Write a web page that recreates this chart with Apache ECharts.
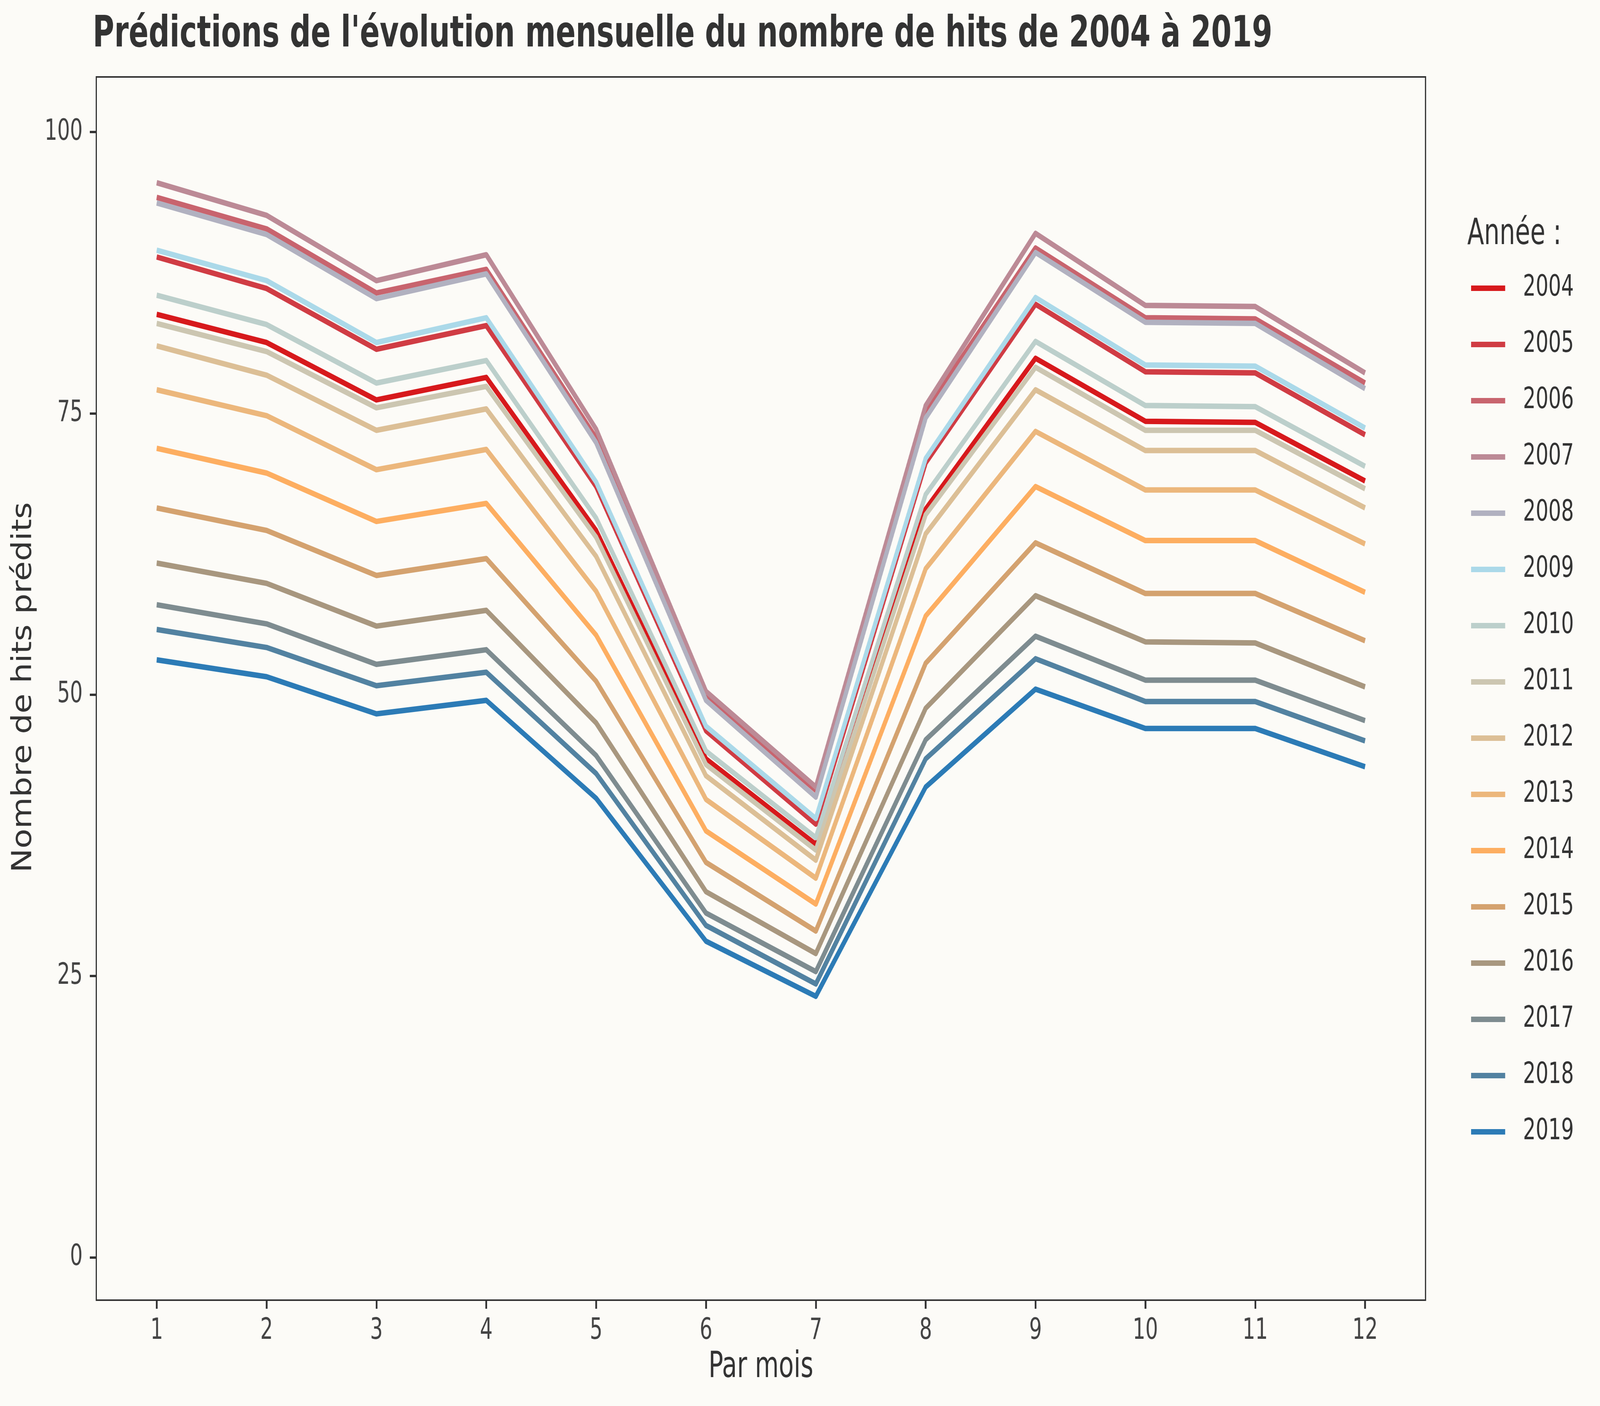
<!DOCTYPE html>
<html>
<head>
<meta charset="utf-8">
<script src="https://cdn.jsdelivr.net/npm/echarts@6/dist/echarts.min.js"></script>
<style>
html,body{margin:0;padding:0;background:#fcfbf7;overflow:hidden;}
#chart{width:5400px;height:3600px;transform-origin:0 0;}
</style>
</head>
<body>
<div id="chart"></div>
<script>
const months = [1,2,3,4,5,6,7,8,9,10,11,12];
const yTicks = [0,25,50,75,100];
const years = ['2004','2005','2006','2007','2008','2009','2010','2011','2012','2013','2014','2015','2016','2017','2018','2019'];
const colors = ['#d7191c','#d03c44','#c8646e','#bc8a96','#b1b1c0','#abd9e9','#bccfcb','#ccc6b1','#dcbf96','#ecb77c','#fdae61','#d4a26f','#a8977f','#7e8c90','#5282a1','#2c7bb6'];

const v2004 = [83.8, 81.3, 76.2, 78.2, 64.6, 44.3, 36.7, 66.5, 79.9, 74.3, 74.2, 69.0];
const v2005 = [88.9, 86.1, 80.7, 82.8, 68.5, 46.8, 38.5, 70.6, 84.7, 78.7, 78.6, 73.1];
const v2006 = [94.2, 91.4, 85.7, 87.8, 72.8, 49.9, 41.5, 75.2, 89.7, 83.5, 83.4, 77.7];
const v2007 = [95.5, 92.6, 86.8, 89.1, 73.6, 50.3, 41.8, 75.7, 91.0, 84.6, 84.5, 78.6];
const v2008 = [93.7, 90.9, 85.2, 87.4, 72.4, 49.5, 40.9, 74.6, 89.3, 83.1, 83.0, 77.2];
const v2009 = [89.5, 86.8, 81.3, 83.5, 68.9, 47.2, 39.0, 71.0, 85.3, 79.3, 79.2, 73.7];
const v2010 = [85.5, 82.9, 77.7, 79.7, 65.7, 45.0, 37.3, 67.8, 81.4, 75.7, 75.6, 70.3];
const v2011 = [83.0, 80.5, 75.5, 77.4, 64.0, 43.8, 36.2, 66.0, 79.1, 73.5, 73.5, 68.3];
const v2012 = [81.0, 78.4, 73.5, 75.4, 62.3, 42.8, 35.3, 64.3, 77.1, 71.7, 71.7, 66.6];
const v2013 = [77.1, 74.8, 70.0, 71.8, 59.2, 40.7, 33.7, 61.2, 73.4, 68.2, 68.2, 63.4];
const v2014 = [71.9, 69.7, 65.4, 67.0, 55.3, 37.9, 31.4, 57.0, 68.5, 63.7, 63.7, 59.1];
const v2015 = [66.6, 64.6, 60.6, 62.1, 51.2, 35.1, 29.0, 52.8, 63.5, 59.0, 59.0, 54.8];
const v2016 = [61.7, 59.9, 56.1, 57.5, 47.5, 32.5, 27.0, 48.8, 58.8, 54.7, 54.6, 50.7];
const v2017 = [58.0, 56.3, 52.7, 54.0, 44.6, 30.6, 25.4, 46.0, 55.2, 51.3, 51.3, 47.7];
const v2018 = [55.8, 54.2, 50.8, 52.0, 43.0, 29.5, 24.3, 44.3, 53.2, 49.4, 49.4, 45.9];
const v2019 = [53.1, 51.6, 48.3, 49.5, 40.8, 28.1, 23.2, 41.8, 50.5, 47.0, 47.0, 43.6];
const values = [v2004,v2005,v2006,v2007,v2008,v2009,v2010,v2011,v2012,v2013,v2014,v2015,v2016,v2017,v2018,v2019];

const FONT = '"DejaVu Sans Condensed", "DejaVu Sans", sans-serif';

// fit the 5400x3600 design into the actual viewport
const el = document.getElementById('chart');
const sx = (window.innerWidth || 5400) / 5400;
const sy = (window.innerHeight || 3600) / 3600;
el.style.transform = 'scale(' + sx + ',' + sy + ')';

const chart = echarts.init(el, null, {renderer:'canvas', width: 5400, height: 3600});
const series = years.map((y, i) => ({
  name: y,
  type: 'line',
  data: months.map((m, j) => [m, values[i][j]]),
  symbol: 'none',
  showSymbol: false,
  color: colors[i],
  lineStyle: {width: 14, color: colors[i], join: 'round', cap: 'butt'},
  emphasis: {disabled: true},
  animation: false
}));

chart.setOption({
  backgroundColor: '#fcfbf7',
  animation: false,
  grid: {left: 325, right: 589, top: 197, bottom: 271, show: true, borderColor: '#333333', borderWidth: 4, backgroundColor: '#fcfbf7', containLabel: false},
  xAxis: {
    type: 'value', min: 0.45, max: 12.55,
    splitLine: {show: false},
    axisLine: {show: false, onZero: false},
    axisTick: {show: true, length: 22, lineStyle: {width: 6, color: '#333333'}, customValues: months},
    axisLabel: {show: true, margin: 42, fontSize: 75, color: '#444444', fontFamily: FONT, customValues: months}
  },
  yAxis: {
    type: 'value', min: -3.8, max: 104.9,
    splitLine: {show: false},
    axisLine: {show: false, onZero: false},
    axisTick: {show: true, length: 22, lineStyle: {width: 6, color: '#333333'}, customValues: yTicks},
    axisLabel: {show: true, margin: 46, fontSize: 75, color: '#444444', fontFamily: FONT, customValues: yTicks}
  },
  legend: {
    orient: 'vertical', left: 4965, top: 698, padding: 0,
    icon: 'rect', itemWidth: 115, itemHeight: 14, itemGap: 64,
    textStyle: {fontSize: 75, lineHeight: 80, color: '#333333', fontFamily: FONT, padding: [0,0,0,55]},
    data: years
  },
  graphic: [
    {type: 'text', x: 313, y: 90, style: {text: "Prédictions de l'évolution mensuelle du nombre de hits de 2004 à 2019", font: 'bold 110px ' + FONT, fill: '#333333', align: 'left', verticalAlign: 'middle'}},
    {type: 'text', x: 2568, y: 3502, style: {text: 'Par mois', font: '92px ' + FONT, fill: '#333333', align: 'center', verticalAlign: 'middle'}},
    {type: 'text', x: 81, y: 1760, rotation: Math.PI/2, style: {text: 'Nombre de hits prédits', font: '92px ' + FONT, fill: '#333333', align: 'center', verticalAlign: 'middle'}},
    {type: 'text', x: 4952, y: 601, style: {text: 'Année :', font: '92px ' + FONT, fill: '#333333', align: 'left', verticalAlign: 'middle'}}
  ],
  series: series
});
</script>
</body>
</html>
